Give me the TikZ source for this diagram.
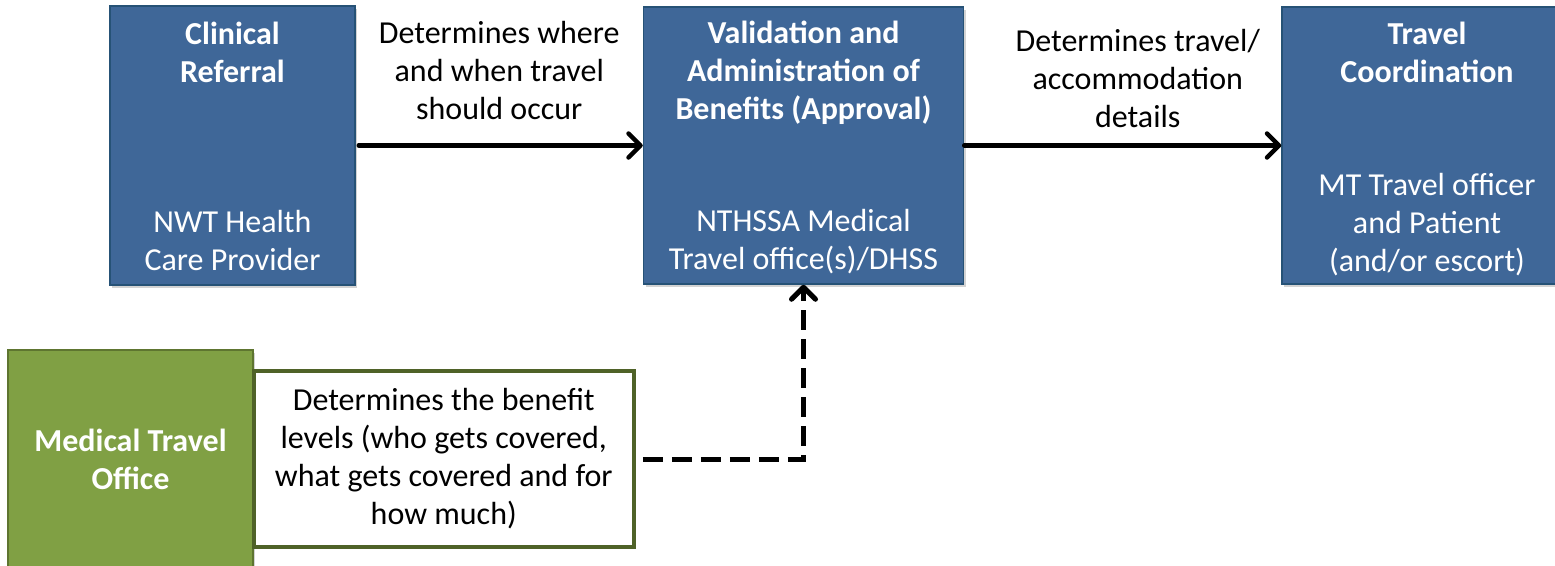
\documentclass[tikz,border=0pt]{standalone}
\usepackage{fontspec}
\setmainfont{Carlito}
\usetikzlibrary{arrows.meta,positioning,shadows}

\definecolor{boxblue}{RGB}{63,103,152}
\definecolor{edgeblue}{RGB}{38,82,118}
\definecolor{officegreen}{RGB}{128,160,68}
\definecolor{olive}{RGB}{79,98,40}

\begin{document}
\begin{tikzpicture}[x=1pt,y=-1pt,node distance=0pt,font=\fontsize{32}{38}\selectfont]
\tikzstyle{bluebox}=[rectangle,fill=boxblue,draw=edgeblue,line width=1.5pt,
  drop shadow={opacity=0.35,shadow xshift=2pt,shadow yshift=-3pt},inner sep=0pt]
\tikzstyle{title}=[anchor=base,align=center,text=white,font=\fontsize{32}{38}\selectfont\bfseries]
\tikzstyle{who}=[anchor=base,align=center,text=white]
\tikzstyle{flow}=[-{Straight Barb[length=12pt,width=24pt,line cap=round,line join=round]},line width=4.5pt,line cap=round]
\tikzstyle{feed}=[flow,line width=5pt,dash pattern=on 20pt off 9pt,line cap=butt]

\useasboundingbox (0,0) rectangle (1555,565);

\node[bluebox,minimum width=245pt,minimum height=279pt] (ref) at (232.5,145.5) {};
\node[bluebox,minimum width=320pt,minimum height=277pt,right=287pt of ref] (val) {};
\node[bluebox,minimum width=290pt,minimum height=277pt,right=317pt of val] (trv) {};

% base = last line
\node[title] (reft) at ([yshift=-77pt]ref.north) {Clinical\\Referral};
\node[who] (refw) at ([yshift=15pt]ref.south) {NWT Health\\Care Provider};
\node[title] (valt) at ([yshift=-113pt]val.north) {Validation and\\Administration of\\Benefits (Approval)};
\node[who] (valw) at ([yshift=15pt]val.south) {NTHSSA Medical\\Travel office(s)/DHSS};
\node[title] (trvt) at ([yshift=-76pt]trv.north) {Travel\\Coordination};
\node[who] (trvw) at ([yshift=13pt]trv.south) {MT Travel officer\\and Patient\\(and/or escort)};

\node[rectangle,fill=officegreen,draw=olive!70!officegreen,line width=1.5pt,
  drop shadow={opacity=0.35,shadow xshift=2pt,shadow yshift=-3pt},
  minimum width=245pt,minimum height=218pt,align=center,text=white,
  font=\fontsize{32}{38}\selectfont\bfseries] (mto) at (130.5,459) {Medical Travel\\Office};
\node[rectangle,fill=white,draw=olive,line width=4pt,minimum width=380pt,minimum height=176pt,
  align=center,right=-2pt of mto] (lvl) {Determines the benefit\\levels (who gets covered,\\what gets covered and for\\how much)};

\path
  (ref) edge [flow,shorten <=3pt] node[anchor=base,align=center,yshift=26pt] (lab1) {Determines where\\and when travel\\should occur} (val)
  (val) edge [flow] node[anchor=base,align=center,xshift=15pt,yshift=18pt] (lab2) {Determines travel/\\accommodation\\details} (trv);

\draw[feed,shorten <=7pt] (lvl.east) -| (val.south);
\end{tikzpicture}
\end{document}
